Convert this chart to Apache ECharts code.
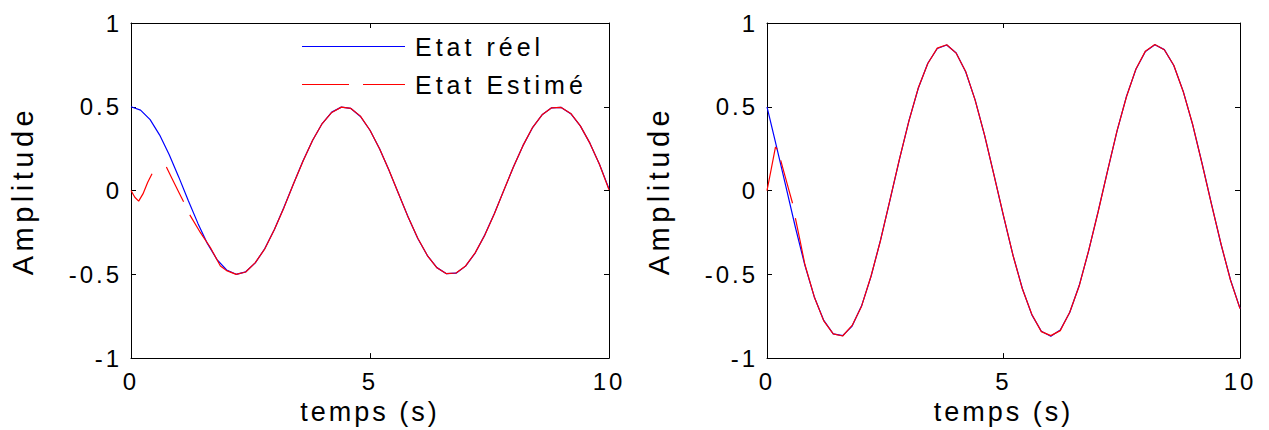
<!DOCTYPE html>
<html>
<head>
<meta charset="utf-8">
<script src="https://cdn.jsdelivr.net/npm/echarts@6/dist/echarts.min.js"></script>
<style>
  html, body { margin: 0; padding: 0; background: #fff; }
  #chart { width: 1269px; height: 430px; }
  /* matlab style text is spaced out */
  #chart text { letter-spacing: 3px; }
  #chart text[style*="25px"] { letter-spacing: 4px; }
  #chart text[style*="29px"] { letter-spacing: 4.5px; }
</style>
</head>
<body>
<div id="chart"></div>
<script>
// time grid (s), step 0.2
const temps = [0, 0.2, 0.4, 0.6, 0.8, 1, 1.2, 1.4, 1.6, 1.8, 2, 2.2, 2.4, 2.6, 2.8, 3, 3.2, 3.4, 3.6, 3.8,
  4, 4.2, 4.4, 4.6, 4.8, 5, 5.2, 5.4, 5.6, 5.8, 6, 6.2, 6.4, 6.6, 6.8, 7, 7.2, 7.4, 7.6, 7.8,
  8, 8.2, 8.4, 8.6, 8.8, 9, 9.2, 9.4, 9.6, 9.8, 10];

// left plot - real state
const reel1 = [0.500, 0.480, 0.423, 0.331, 0.214, 0.080, -0.061, -0.196, -0.317, -0.412, -0.474, -0.500, -0.485,
  -0.432, -0.346, -0.233, -0.100, 0.041, 0.178, 0.300, 0.400, 0.468, 0.498, 0.490, 0.442, 0.360, 0.249, 0.119,
  -0.021, -0.159, -0.286, -0.388, -0.460, -0.496, -0.493, -0.451, -0.373, -0.266, -0.139, 0.001, 0.141, 0.268,
  0.375, 0.452, 0.494, 0.496, 0.459, 0.386, 0.283, 0.157, 0.010];

// left plot - estimated state (null = gap)
const estTemps1 = [0, 0.08, 0.16, 0.25, 0.35, 0.44, 0.6, 0.74, 0.86, 1.0, 1.1, 1.17, 1.23, 1.45, 1.66, 1.87,
  2, 2.2, 2.4, 2.6, 2.8, 3, 3.2, 3.4, 3.6, 3.8, 4, 4.2, 4.4, 4.6, 4.8, 5, 5.2, 5.4, 5.6, 5.8, 6, 6.2, 6.4, 6.6,
  6.8, 7, 7.2, 7.4, 7.6, 7.8, 8, 8.2, 8.4, 8.6, 8.8, 9, 9.2, 9.4, 9.6, 9.8, 10];
const estime1 = [0, -0.04, -0.063, -0.02, 0.05, 0.10, null, 0.14, 0.07, -0.01, -0.067, null, -0.145, -0.25, -0.34,
  -0.45, -0.478, -0.500, -0.486, -0.430, -0.348, -0.232, -0.102, 0.040, 0.176, 0.300, 0.400, 0.466, 0.498, 0.490,
  0.444, 0.360, 0.250, 0.120, -0.020, -0.160, -0.285, -0.388, -0.461, -0.496, -0.492, -0.450, -0.372, -0.267,
  -0.140, 0.002, 0.140, 0.268, 0.376, 0.452, 0.494, 0.496, 0.460, 0.386, 0.283, 0.157, 0.005];

// right plot - real state
const reel2 = [0.500, 0.264, 0.023, -0.219, -0.445, -0.635, -0.775, -0.855, -0.866, -0.809, -0.688, -0.512,
  -0.296, -0.057, 0.186, 0.416, 0.612, 0.760, 0.848, 0.869, 0.821, 0.709, 0.541, 0.329, 0.092, -0.152, -0.385,
  -0.586, -0.742, -0.840, -0.870, -0.832, -0.728, -0.567, -0.360, -0.126, 0.117, 0.355, 0.562, 0.724, 0.830,
  0.870, 0.841, 0.746, 0.592, 0.392, 0.160, -0.084, -0.322, -0.534, -0.703];

// right plot - estimated state
const estTemps2 = [0, 0.09, 0.18, 0.22, 0.26, 0.29, 0.38, 0.46, 0.54, 0.57, 0.6, 0.7, 0.8,
  1, 1.2, 1.4, 1.6, 1.8, 2, 2.2, 2.4, 2.6, 2.8, 3, 3.2, 3.4, 3.6, 3.8, 4, 4.2, 4.4, 4.6, 4.8, 5, 5.2, 5.4, 5.6,
  5.8, 6, 6.2, 6.4, 6.6, 6.8, 7, 7.2, 7.4, 7.6, 7.8, 8, 8.2, 8.4, 8.6, 8.8, 9, 9.2, 9.4, 9.6, 9.8, 10];
const estime2 = [0, 0.13, 0.26, 0.245, null, 0.18, 0.088, 0.006, -0.076, null, -0.165, -0.30, -0.44,
  -0.635, -0.778, -0.855, -0.868, -0.805, -0.690, -0.510, -0.298, -0.055, 0.188, 0.414, 0.614, 0.758, 0.850,
  0.870, 0.820, 0.711, 0.540, 0.331, 0.090, -0.150, -0.386, -0.588, -0.740, -0.842, -0.866, -0.836, -0.726,
  -0.570, -0.358, -0.128, 0.118, 0.356, 0.560, 0.726, 0.832, 0.872, 0.840, 0.748, 0.590, 0.394, 0.158, -0.086,
  -0.320, -0.536, -0.705];

const xTicks = [0, 5, 10];
const yTicks = [-1, -0.5, 0, 0.5, 1];

const font = 'Liberation Sans';
const black = '#000';

function pairs(t, v) {
  return t.map((x, i) => [x, v[i] === null ? '-' : v[i]]);
}

function xAxis(gi, pos) {
  const main = pos === 'bottom';
  return {
    type: 'value', gridIndex: gi, position: pos,
    min: xTicks[0], max: xTicks[xTicks.length - 1], interval: 5,
    axisLine: { onZero: false, lineStyle: { color: black, width: 1 } },
    axisTick: { inside: true, length: 5, lineStyle: { color: black } },
    axisLabel: { show: main, color: black, fontSize: 24, fontFamily: font, margin: 11 },
    splitLine: { show: false },
    name: main ? 'temps (s)' : '',
    nameLocation: 'middle', nameGap: 34,
    nameTextStyle: { color: black, fontSize: 27, fontFamily: font }
  };
}

function yAxis(gi, pos) {
  const main = pos === 'left';
  return {
    type: 'value', gridIndex: gi, position: pos,
    min: yTicks[0], max: yTicks[yTicks.length - 1], interval: 0.5,
    axisLine: { onZero: false, lineStyle: { color: black, width: 1 } },
    axisTick: { inside: true, length: 5, lineStyle: { color: black } },
    axisLabel: { show: main, color: black, fontSize: 24, fontFamily: font, margin: 9 },
    splitLine: { show: false },
    name: main ? 'Amplitude' : '',
    nameLocation: 'middle', nameRotate: 90, nameGap: 94,
    nameTextStyle: { color: black, fontSize: 29, fontFamily: font }
  };
}

function line(name, gi, data, color) {
  return {
    name: name, type: 'line', xAxisIndex: gi * 2, yAxisIndex: gi * 2,
    data: data, showSymbol: false, symbol: 'none', smooth: false, animation: false,
    connectNulls: false,
    lineStyle: { color: color, width: 1.2 }, itemStyle: { color: color }
  };
}

const chart = echarts.init(document.getElementById('chart'), null, { renderer: 'svg' });
chart.setOption({
  backgroundColor: '#fff',
  animation: false,
  grid: [
    { left: 131, top: 23, width: 478, height: 339 },
    { left: 767, top: 23, width: 473, height: 339 }
  ],
  xAxis: [xAxis(0, 'bottom'), xAxis(0, 'top'), xAxis(1, 'bottom'), xAxis(1, 'top')],
  yAxis: [yAxis(0, 'left'), yAxis(0, 'right'), yAxis(1, 'left'), yAxis(1, 'right')],
  legend: {
    orient: 'vertical', left: 302, top: 34, padding: 0,
    itemWidth: 103, itemHeight: 1.5, itemGap: 13,
    textStyle: { color: black, fontSize: 25, fontFamily: font, padding: [0, 0, 0, 5] },
    data: [
      // solid line / long dashes, as in the matlab legend
      { name: 'Etat réel', icon: 'path://M0 0H103V1H0Z' },
      { name: 'Etat Estimé', icon: 'path://M0 0H47V1H0ZM61 0H103V1H61Z' }
    ]
  },
  series: [
    line('Etat réel', 0, pairs(temps, reel1), '#0000ff'),
    line('Etat Estimé', 0, pairs(estTemps1, estime1), '#ff0000'),
    line('Etat réel', 1, pairs(temps, reel2), '#0000ff'),
    line('Etat Estimé', 1, pairs(estTemps2, estime2), '#ff0000')
  ]
});
</script>
</body>
</html>
